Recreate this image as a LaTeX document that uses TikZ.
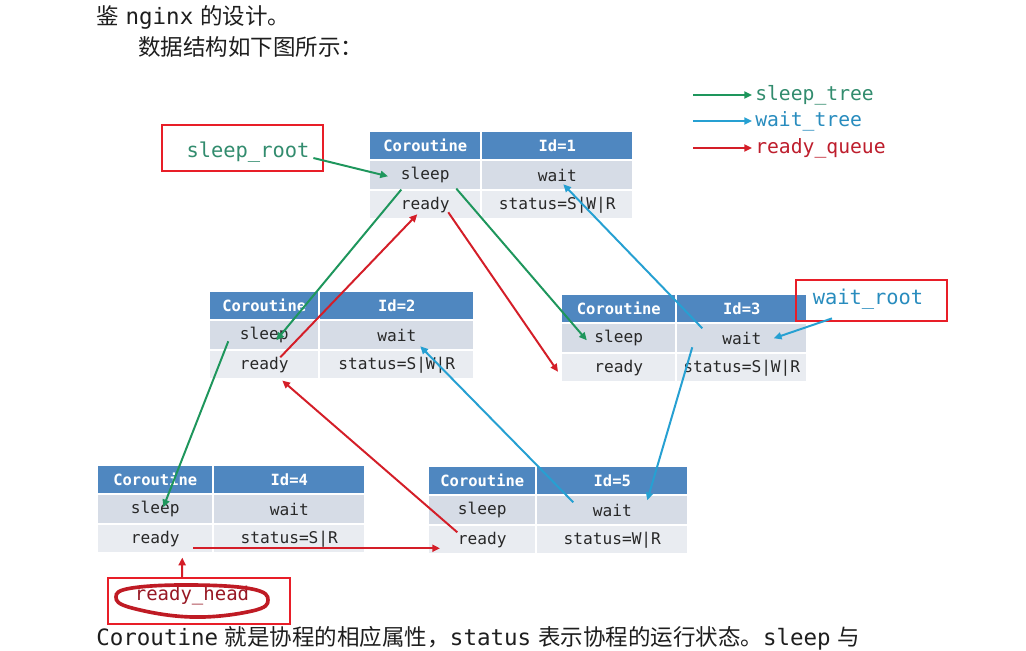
\documentclass[tikz,border=0pt]{standalone}
\usepackage{fontspec}
\setmonofont{DejaVu Sans Mono}
\newfontfamily\cjk{Noto Sans CJK SC}
\usetikzlibrary{arrows.meta,calc}
\definecolor{hdr}{RGB}{79,135,192}
\definecolor{rowA}{RGB}{214,220,230}
\definecolor{rowB}{RGB}{233,236,241}
\definecolor{celltxt}{RGB}{40,40,40}
\definecolor{grn}{RGB}{30,150,92}
\definecolor{blu}{RGB}{38,160,210}
\definecolor{rd}{RGB}{212,30,40}
\definecolor{boxred}{RGB}{232,30,40}
\definecolor{grntxt}{RGB}{50,140,110}
\definecolor{blutxt}{RGB}{40,140,190}
\definecolor{rdtxt}{RGB}{190,30,45}
\definecolor{body}{RGB}{30,30,30}
\tikzset{
  cellbase/.style={anchor=north west, inner sep=0pt, text=celltxt,
    font=\fontsize{11.5}{13}\selectfont\ttfamily},
  hcell/.style={cellbase, fill=hdr, text=white,
    font=\fontsize{11}{13}\selectfont\ttfamily\bfseries, minimum height=0.675cm},
  scell/.style={cellbase, fill=rowA, minimum height=0.7cm},
  rcell/.style={cellbase, fill=rowB, minimum height=0.675cm},
  conn/.style={line width=1.4pt, -{Triangle[length=5.5pt,width=5pt]}},
  garrow/.style={conn, draw=grn},
  barrow/.style={conn, draw=blu},
  rarrow/.style={conn, draw=rd},
  rootbox/.style={draw=boxred, line width=2pt, inner sep=0pt},
  rootlabel/.style={font=\fontsize{14.5}{16}\selectfont\ttfamily},
  legendlabel/.style={anchor=west, inner sep=0pt, font=\fontsize{14}{16}\selectfont\ttfamily},
  bodytext/.style={anchor=west, inner sep=0pt, text=body, font=\fontsize{16}{19}\selectfont},
}
% prefix, x0, xdiv, x1, ytop, id, status
\newcommand\ctable[7]{%
  \node[hcell, minimum width={(#3-#2-1)*0.025cm}] (#1h) at (#2,#5) {Coroutine};
  \node[hcell, minimum width={(#4-#3-1)*0.025cm}] (#1i) at (#3+1,#5) {Id=#6};
  \node[scell, minimum width={(#3-#2-1)*0.025cm}] (#1s) at (#2,#5+29) {sleep};
  \node[scell, minimum width={(#4-#3-1)*0.025cm}] (#1w) at (#3+1,#5+29) {wait};
  \node[rcell, minimum width={(#3-#2-1)*0.025cm}] (#1r) at (#2,#5+59) {ready};
  \node[rcell, minimum width={(#4-#3-1)*0.025cm}] (#1t) at (#3+1,#5+59) {status=#7};
}
\begin{document}
\begin{tikzpicture}[x=0.025cm,y=-0.025cm]
\useasboundingbox (0,0) rectangle (1026,651);
\fill[white] (0,0) rectangle (1026,651);

% body text
\node[bodytext] (p1) at (96,17) {{\cjk 鉴} \texttt{nginx} {\cjk 的设计。}};
\node[bodytext] (p2) at (138,47) {\cjk 数据结构如下图所示：};
\node[bodytext] (p3) at (96,638) {\texttt{Coroutine} {\cjk 就是协程的相应属性，}\texttt{status} {\cjk 表示协程的运行状态。}\texttt{sleep} {\cjk 与}};

% tables
\ctable{t1}{370}{481}{632}{132}{1}{S|W|R}
\ctable{t2}{210}{319}{473}{292}{2}{S|W|R}
\ctable{t3}{562}{676}{806}{295}{3}{S|W|R}
\ctable{t4}{98}{213}{364}{466}{4}{S|R}
\ctable{t5}{429}{536}{687}{467}{5}{W|R}

% root boxes
\node[rootbox, minimum width={161*0.025cm}, minimum height={46*0.025cm}] (srbox) at (242.5,148) {};
\node[rootlabel, text=grntxt] (sr) at (248,152) {sleep\_root};
\node[rootbox, minimum width={151*0.025cm}, minimum height={41*0.025cm}] (wrbox) at (871.5,300.5) {};
\node[rootlabel, text=blutxt] (wr) at (868,299) {wait\_root};
\node[rootbox, minimum width={182*0.025cm}, minimum height={46*0.025cm}] (rhbox) at (199,601) {};
\node[rootlabel, text=rdtxt!80!black, font=\fontsize{13.5}{15}\selectfont\ttfamily] (rh) at (192,596) {ready\_head};
\draw[rd!90!black, line width=2.6pt] plot[smooth cycle, tension=0.7] coordinates
  {(116,597) (132,588) (192,585) (252,589) (268,600) (252,611) (192,617) (132,608)};

% legend
\coordinate (lg1) at (693,95);
\coordinate (lg2) at (693,121);
\coordinate (lg3) at (693,148);
\node[legendlabel, text=grntxt] (lt1) at (755,95) {sleep\_tree};
\node[legendlabel, text=blutxt] (lt2) at (755,121) {wait\_tree};
\node[legendlabel, text=rdtxt] (lt3) at (755,148) {ready\_queue};
\draw[garrow] (lg1) -- ($(lt1.west)+(-3,0)$);
\draw[barrow] (lg2) -- ($(lt2.west)+(-3,0)$);
\draw[rarrow] (lg3) -- ($(lt3.west)+(-3,0)$);

% sleep tree
\draw[garrow] ($(srbox.east)+(-11,10)$) -- ($(t1s.west)+(18,1)$);
\draw[garrow] ($(t1s.south)+(-24,0)$) -- ($(t2s.center)+(12,5)$);
\draw[garrow] ($(t1s.south)+(31,-1)$) -- ($(t3s.center)+(-32,2)$);
\draw[garrow] ($(t2s.center)+(-36,6)$) -- ($(t4s.center)+(8,-2)$);

% ready queue
\draw[rarrow] ($(t4r.center)+(38,9.5)$) -- ($(t5r.west)+(11,8.5)$);
\draw[rarrow] ($(t5r.center)+(-25,-7.5)$) -- ($(t2r.south)+(18,2)$);
\draw[rarrow] ($(t2r.center)+(16,-7.5)$) -- ($(t1r.center)+(-8,9.5)$);
\draw[rarrow] ($(t1r.center)+(23,7.5)$) -- ($(t3r.west)+(-4,4)$);
\draw[rarrow] ($(rh.north)+(-10,-4)$) -- ($(t4r.south)+(27,5)$);

% wait tree
\draw[barrow] ($(wrbox.south)+(-39.5,-4)$) -- ($(t3w.center)+(32,0)$);
\draw[barrow] ($(t3w.center)+(-39.5,-10)$) -- ($(t1w.center)+(6,9)$);
\draw[barrow] ($(t3w.center)+(-49.5,9)$) -- ($(t5w.center)+(35,-10)$);
\draw[barrow] ($(t5w.center)+(-39,-8)$) -- ($(t2w.center)+(23.5,11)$);
\end{tikzpicture}
\end{document}
